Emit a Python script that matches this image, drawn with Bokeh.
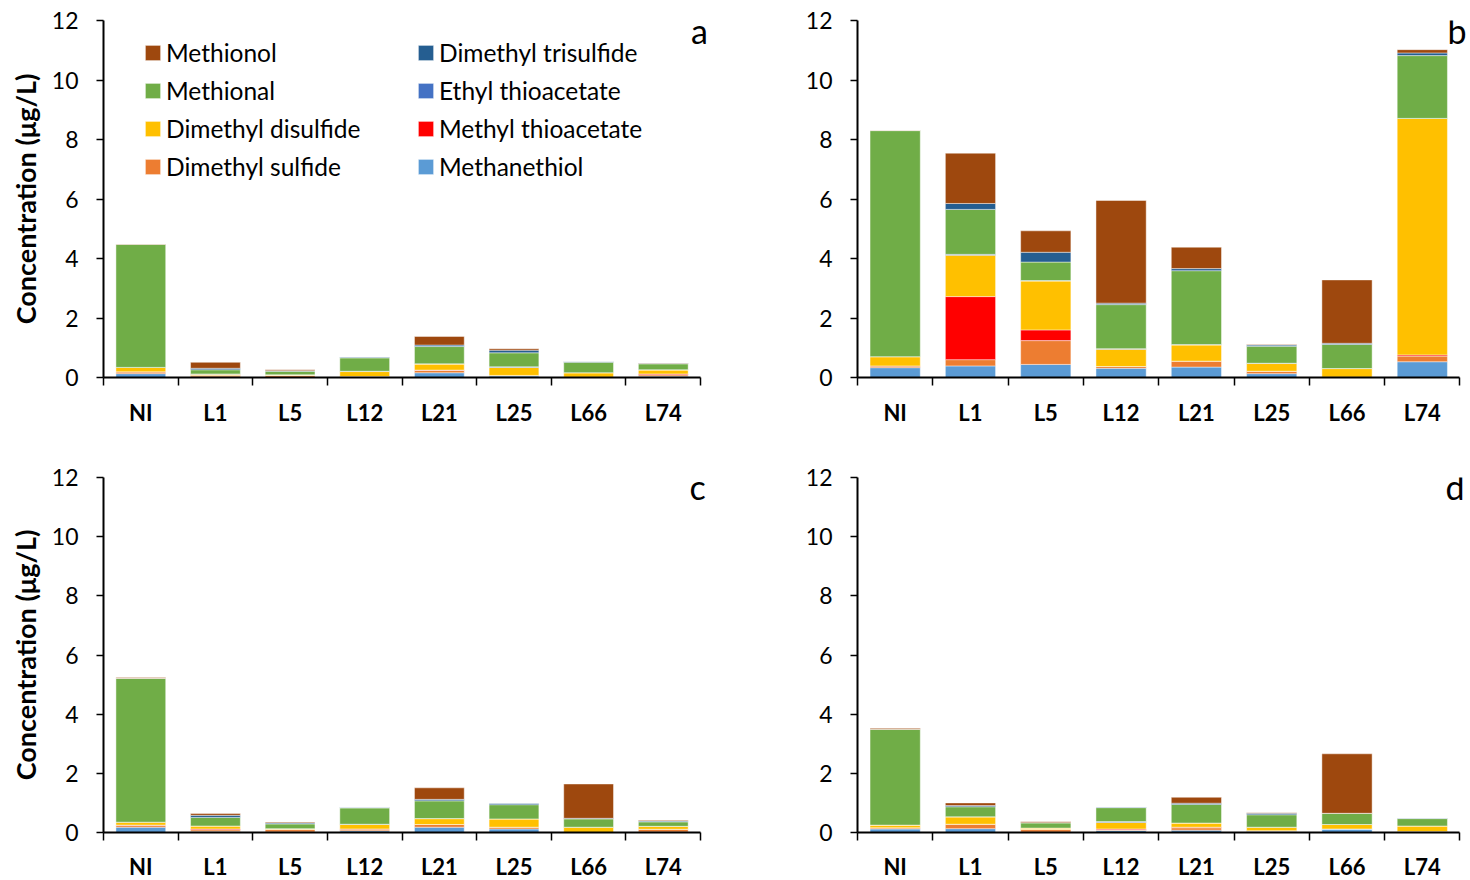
import numpy as np
from bokeh.plotting import figure
from bokeh.models import (ColumnDataSource, Range1d, FixedTicker, Legend, LegendItem, Label)
from bokeh.layouts import column, row
from bokeh.embed import file_html
from bokeh.resources import INLINE

CATEGORIES = ["NI", "L1", "L5", "L12", "L21", "L25", "L66", "L74"]
SERIES = ["Methanethiol", "Dimethyl sulfide", "Methyl thioacetate", "Dimethyl disulfide",
          "Ethyl thioacetate", "Methional", "Dimethyl trisulfide", "Methionol"]
COLORS = ["#5B9BD5", "#ED7D31", "#FF0000", "#FFC000", "#4472C4", "#70AD47", "#255E91", "#9E480E"]
Y_TICKS = [0, 2, 4, 6, 8, 10, 12]

# panel a
a_methanethiol = [0.13, 0.02, 0.01, 0.01, 0.16, 0.05, 0.01, 0.04]
a_dms          = [0.06, 0.04, 0.06, 0.02, 0.08, 0.02, 0.00, 0.05]
a_mesac        = [0.00, 0.01, 0.00, 0.00, 0.01, 0.00, 0.00, 0.03]
a_dmds         = [0.15, 0.04, 0.02, 0.17, 0.20, 0.27, 0.15, 0.13]
a_etsac        = [0.00, 0.01, 0.00, 0.01, 0.01, 0.02, 0.00, 0.01]
a_methional    = [4.14, 0.14, 0.12, 0.45, 0.58, 0.47, 0.35, 0.20]
a_dmts         = [0.00, 0.05, 0.02, 0.03, 0.05, 0.09, 0.03, 0.02]
a_methionol    = [0.01, 0.20, 0.03, 0.00, 0.29, 0.05, 0.00, 0.01]

# panel b
b_methanethiol = [0.33, 0.39, 0.44, 0.31, 0.35, 0.13, 0.01, 0.53]
b_dms          = [0.06, 0.21, 0.80, 0.06, 0.20, 0.08, 0.00, 0.19]
b_mesac        = [0.00, 2.12, 0.36, 0.00, 0.00, 0.00, 0.00, 0.04]
b_dmds         = [0.31, 1.39, 1.64, 0.58, 0.54, 0.26, 0.29, 7.95]
b_etsac        = [0.00, 0.03, 0.02, 0.02, 0.02, 0.01, 0.00, 0.00]
b_methional    = [7.60, 1.51, 0.62, 1.48, 2.48, 0.57, 0.81, 2.11]
b_dmts         = [0.00, 0.20, 0.33, 0.05, 0.07, 0.04, 0.04, 0.09]
b_methionol    = [0.01, 1.69, 0.72, 3.45, 0.72, 0.02, 2.13, 0.11]

# panel c
c_methanethiol = [0.18, 0.03, 0.02, 0.06, 0.18, 0.12, 0.00, 0.02]
c_dms          = [0.07, 0.06, 0.08, 0.06, 0.09, 0.06, 0.00, 0.09]
c_mesac        = [0.00, 0.03, 0.00, 0.00, 0.00, 0.00, 0.00, 0.00]
c_dmds         = [0.10, 0.10, 0.03, 0.15, 0.20, 0.28, 0.18, 0.10]
c_etsac        = [0.00, 0.00, 0.00, 0.01, 0.00, 0.00, 0.00, 0.00]
c_methional    = [4.86, 0.29, 0.16, 0.55, 0.60, 0.48, 0.28, 0.15]
c_dmts         = [0.00, 0.07, 0.03, 0.02, 0.05, 0.05, 0.02, 0.03]
c_methionol    = [0.03, 0.06, 0.03, 0.00, 0.39, 0.00, 1.16, 0.02]

# panel d
d_methanethiol = [0.12, 0.13, 0.01, 0.07, 0.08, 0.04, 0.12, 0.00]
d_dms          = [0.04, 0.15, 0.09, 0.02, 0.08, 0.02, 0.00, 0.03]
d_mesac        = [0.00, 0.00, 0.00, 0.03, 0.02, 0.00, 0.00, 0.00]
d_dmds         = [0.09, 0.25, 0.05, 0.22, 0.14, 0.12, 0.15, 0.19]
d_etsac        = [0.00, 0.00, 0.00, 0.03, 0.00, 0.00, 0.00, 0.00]
d_methional    = [3.24, 0.34, 0.18, 0.47, 0.63, 0.42, 0.38, 0.25]
d_dmts         = [0.00, 0.04, 0.00, 0.02, 0.04, 0.05, 0.00, 0.02]
d_methionol    = [0.03, 0.09, 0.03, 0.00, 0.20, 0.02, 2.01, 0.00]

PANELS = {
    "a": [a_methanethiol, a_dms, a_mesac, a_dmds, a_etsac, a_methional, a_dmts, a_methionol],
    "b": [b_methanethiol, b_dms, b_mesac, b_dmds, b_etsac, b_methional, b_dmts, b_methionol],
    "c": [c_methanethiol, c_dms, c_mesac, c_dmds, c_etsac, c_methional, c_dmts, c_methionol],
    "d": [d_methanethiol, d_dms, d_mesac, d_dmds, d_etsac, d_methional, d_dmts, d_methionol],
}

FONT = "Lato"


def make_panel(letter, left, right, top, bottom, fh, fw, xmax, ylabel, legend, label_standoff, off):
    n = len(CATEGORIES)
    p = figure(frame_width=fw, frame_height=fh, output_backend="svg", toolbar_location=None,
               x_range=Range1d(0, xmax), y_range=Range1d(0, 12),
               min_border_left=left, min_border_right=right, min_border_top=top,
               min_border_bottom=bottom)
    p.outline_line_color = None
    p.xgrid.grid_line_color = None
    p.ygrid.grid_line_color = None
    p.background_fill_color = "white"

    centers = list(np.arange(n) + 0.5)
    data = {"x": centers}
    for name, vals in zip(SERIES, PANELS[letter]):
        data[name] = vals
    src = ColumnDataSource(data)
    rs = p.vbar_stack(SERIES, x="x", width=0.667, source=src, color=COLORS,
                      line_color="white", line_width=0.75, line_alpha=0.6)

    # x axis: labels at centers, tick marks at category boundaries
    xa = p.xaxis[0]
    xa.bounds = (0, n)
    xa.ticker = FixedTicker(ticks=centers, minor_ticks=list(range(n + 1)))
    xa.major_label_overrides = {c: lab for c, lab in zip(centers, CATEGORIES)}
    xa.major_tick_line_color = None
    xa.minor_tick_line_color = "black"
    xa.minor_tick_line_width = 1.5
    xa.minor_tick_out = 8
    xa.minor_tick_in = 0
    xa.axis_line_color = "black"
    xa.axis_line_width = 2
    xa.major_label_text_font = FONT
    xa.major_label_text_font_style = "bold"
    xa.major_label_text_font_size = "22px"
    xa.major_label_text_color = "black"
    xa.major_label_standoff = label_standoff

    ya = p.yaxis[0]
    ya.ticker = FixedTicker(ticks=Y_TICKS)
    ya.minor_tick_line_color = None
    ya.major_tick_out = 7
    ya.major_tick_in = 0
    ya.major_tick_line_color = "black"
    ya.major_tick_line_width = 1.5
    ya.axis_line_color = "black"
    ya.axis_line_width = 2
    ya.major_label_text_font = FONT
    ya.major_label_text_font_size = "23px"
    ya.major_label_text_color = "black"
    ya.major_label_standoff = 18
    if ylabel:
        ya.axis_label = "Concentration (\u03bcg/L)"
        ya.axis_label_text_font = FONT
        ya.axis_label_text_font_style = "bold"
        ya.axis_label_text_font_size = "27px"
        ya.axis_label_text_color = "black"
        ya.axis_label_standoff = 7

    if legend:
        lookup = dict(zip(SERIES, rs))
        left_col = ["Methionol", "Methional", "Dimethyl disulfide", "Dimethyl sulfide"]
        right_col = ["Dimethyl trisulfide", "Ethyl thioacetate", "Methyl thioacetate", "Methanethiol"]
        for names, loc in ((left_col, (40, 196)), (right_col, (313, 196))):
            lg = Legend(items=[LegendItem(label=nm, renderers=[lookup[nm]]) for nm in names],
                        location=loc, orientation="vertical",
                        glyph_width=19, glyph_height=19, label_height=29, spacing=9,
                        label_standoff=4, padding=0, margin=0,
                        label_text_font=FONT, label_text_font_size="24.5px",
                        label_text_color="black",
                        background_fill_alpha=0, border_line_color=None)
            p.add_layout(lg, "center")

    p.add_layout(Label(x=n, y=11.68, text=letter, text_align="center",
                       text_baseline="middle", text_font=FONT, text_font_size="34px",
                       text_color="black", x_offset=off))
    return p


pa = make_panel("a", 103, 20, 20, 75, 357, 612, 8.2, True, True, 13, -1)
pb = make_panel("b", 122, 0, 20, 75, 357, 610, 8.1, False, False, 13, -3)
pc = make_panel("c", 103, 20, 25, 48, 355, 612, 8.2, True, False, 12, -3)
pd_ = make_panel("d", 122, 0, 25, 48, 355, 610, 8.1, False, False, 12, -5)

layout = column(row(pa, pb), row(pc, pd_))
open("out.html", "w").write(file_html(layout, INLINE))
